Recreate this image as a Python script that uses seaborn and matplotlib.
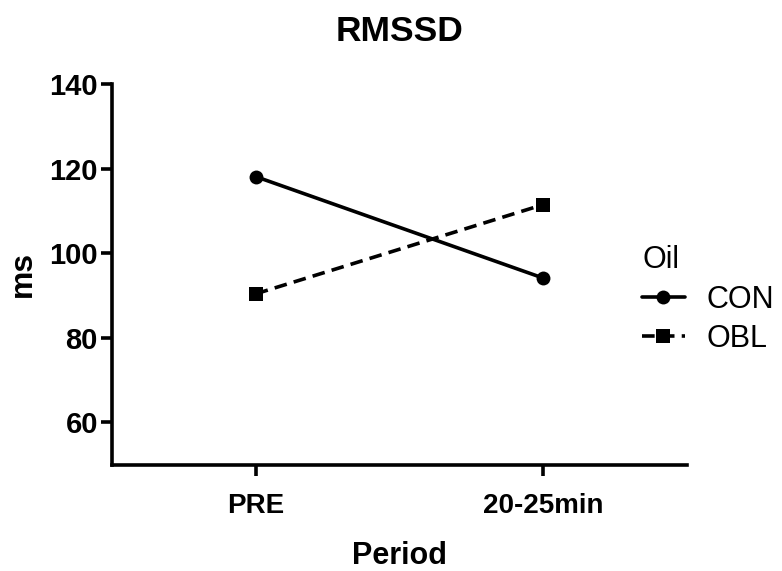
import matplotlib
matplotlib.use("Agg")
import matplotlib.pyplot as plt
import seaborn as sns
import pandas as pd

periods = ["PRE", "20-25min"]
con_values = [118.1, 94.1]
obl_values = [90.4, 111.5]
groups = ["CON", "OBL"]

df = pd.DataFrame({
    "Period": periods * 2,
    "ms": con_values + obl_values,
    "Oil": [groups[0]] * 2 + [groups[1]] * 2,
})

sns.set_theme(style="ticks")
plt.rcParams["font.family"] = ["Liberation Sans", "DejaVu Sans"]
for key in ("text.color", "axes.labelcolor", "xtick.color", "ytick.color"):
    plt.rcParams[key] = "black"

fig = plt.figure(figsize=(7.82, 5.71), dpi=100)
ax = fig.add_axes([0.143, 0.186, 0.736, 0.667])

lw = 2.6
sns.lineplot(
    data=df, x="Period", y="ms", style="Oil", hue="Oil",
    palette=["black", "black"], markers={"CON": "o", "OBL": "s"},
    dashes={"CON": "", "OBL": (3.5, 2.0)}, linewidth=lw,
    markersize=10, markeredgewidth=0, ax=ax, sort=False,
)

ax.set_xlim(-0.5, 1.5)
ax.set_ylim(50, 140)
ax.set_yticks([60, 80, 100, 120, 140])
ax.set_title("RMSSD", fontsize=25.5, fontweight="bold", pad=31)
ax.set_xlabel("Period", fontsize=22, fontweight="bold", labelpad=16)
ax.set_ylabel("ms", fontsize=23, fontweight="bold", labelpad=8)

for lbl in ax.get_xticklabels():
    lbl.set_fontweight("bold")
    lbl.set_fontsize(20)
for lbl in ax.get_yticklabels():
    lbl.set_fontweight("bold")
    lbl.set_fontsize(21)

sns.despine(ax=ax)
for side in ("left", "bottom"):
    ax.spines[side].set_linewidth(lw)
    ax.spines[side].set_color("black")
ax.tick_params(axis="both", length=8, width=lw, color="black")
ax.tick_params(axis="y", pad=2)
ax.tick_params(axis="x", pad=12)

leg = ax.legend(
    title="Oil", loc="center left", bbox_to_anchor=(0.9, 0.434),
    frameon=False, fontsize=22, title_fontsize=22, handlelength=1.4,
    handletextpad=0.72, labelspacing=0.3, borderaxespad=0,
)
leg._legend_box.align = "left"
for h in leg.legend_handles:
    h.set_linewidth(lw)
    h.set_markersize(10)

fig.savefig("out.png", dpi=100)
